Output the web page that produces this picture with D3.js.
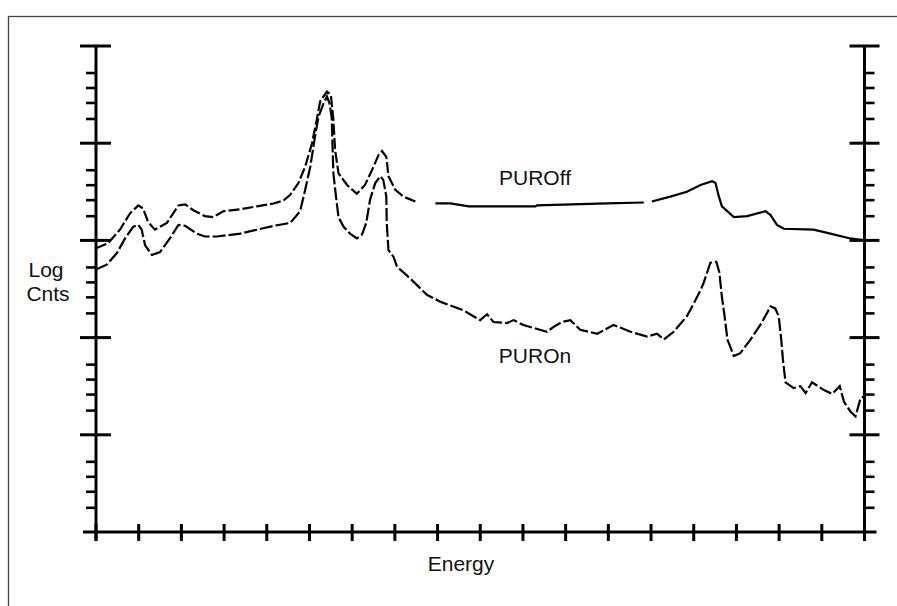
<!DOCTYPE html>
<html>
<head>
<meta charset="utf-8">
<script src="https://cdn.jsdelivr.net/npm/d3@7"></script>
<style>
  html, body { margin: 0; padding: 0; background: #fff; }
  svg { display: block; }
  text { font-family: "Liberation Sans", Arial, sans-serif; fill: #111; }
</style>
</head>
<body>
<svg id="chart" width="897" height="606"></svg>
<script>
// ---------------- data ----------------
// x: energy (arbitrary units, 0..18), y: log10 counts (decades, 0..5)
const xTicks = d3.range(0, 19);            // energy tick positions
const yMajorTicks = d3.range(0, 6);        // decade ticks
const yMinorOffsets = [0.249, 0.414, 0.568, 0.722]; // minor tick positions within each decade

const seriesNames = ["PUROff", "PUROn"];

const purOffE = [0.00,0.28,0.56,0.80,0.99,1.10,1.22,1.38,1.66,1.93,2.09,2.28,2.55,2.75,2.98,3.38,3.77,4.16,4.39,4.55,4.74,4.90,5.06,5.17,5.25,5.41,5.50,5.56,5.60,5.68,5.88,6.11,6.30,6.46,6.62,6.70,6.80,6.85,7.01,7.20,7.48,null,7.95,8.30,8.73,10.29,10.33,11.97,12.83,null,13.02,13.45,13.84,14.16,14.43,14.51,14.59,14.66,14.94,15.25,15.68,15.80,15.95,16.11,16.81,17.20,17.67,18.00];
const purOffV = [2.92,2.97,3.11,3.28,3.36,3.33,3.19,3.11,3.18,3.36,3.37,3.31,3.25,3.24,3.30,3.32,3.35,3.38,3.41,3.47,3.59,3.76,4.00,4.24,4.43,4.53,4.50,4.24,3.93,3.69,3.57,3.48,3.57,3.72,3.88,3.92,3.86,3.66,3.52,3.45,3.40,null,3.38,3.38,3.35,3.35,3.36,3.38,3.39,null,3.40,3.45,3.50,3.57,3.61,3.59,3.45,3.35,3.24,3.25,3.30,3.26,3.16,3.12,3.11,3.07,3.02,3.00];

const purOnE = [0.00,0.25,0.49,0.68,0.87,0.99,1.07,1.15,1.31,1.50,1.73,1.93,2.09,2.36,2.55,2.83,3.38,3.77,4.16,4.55,4.78,4.90,5.02,5.13,5.21,5.33,5.41,5.47,5.52,5.56,5.64,5.68,5.80,5.95,6.11,6.23,6.33,6.42,6.54,6.66,6.73,6.80,6.81,6.85,6.97,7.05,7.28,7.52,7.75,8.06,8.61,8.84,9.00,9.16,9.31,9.63,9.78,10.01,10.56,10.72,10.91,11.11,11.34,11.74,12.12,12.52,12.91,13.14,13.30,13.53,13.84,14.00,14.16,14.23,14.39,14.53,14.60,14.66,14.72,14.79,14.94,15.09,15.33,15.56,15.80,15.91,15.99,16.05,16.09,16.15,16.34,16.50,16.62,16.77,17.05,17.24,17.42,17.52,17.67,17.79,17.91,17.98];
const purOnV = [2.70,2.75,2.87,3.02,3.14,3.16,3.11,2.95,2.85,2.88,3.02,3.16,3.15,3.07,3.04,3.04,3.07,3.11,3.15,3.18,3.30,3.52,3.76,4.07,4.27,4.41,4.48,4.41,4.27,3.69,3.38,3.24,3.14,3.07,3.02,3.06,3.18,3.42,3.59,3.66,3.62,3.45,3.18,2.90,2.83,2.73,2.64,2.54,2.44,2.37,2.28,2.22,2.18,2.24,2.16,2.15,2.18,2.13,2.06,2.11,2.16,2.18,2.08,2.04,2.13,2.06,2.01,2.04,1.98,2.06,2.22,2.35,2.49,2.56,2.77,2.78,2.67,2.42,2.23,1.98,1.81,1.84,1.98,2.13,2.32,2.30,2.22,1.98,1.77,1.54,1.48,1.50,1.43,1.54,1.46,1.42,1.50,1.34,1.24,1.19,1.38,1.39];

const axisTitleY = ["Log", "Cnts"];
const axisTitleX = "Energy";

// ---------------- layout ----------------
const svg = d3.select("#chart");
const plotL = 96, plotR = 864.5, plotT = 46, plotB = 532;

const x = d3.scaleLinear().domain([0, 18]).range([plotL, plotR]);
const y = d3.scaleLinear().domain([0, 5]).range([plotB, plotT]);

// outer frame (right/bottom edges lie outside the visible area)
svg.append("rect")
  .attr("x", 8.5).attr("y", 16.5)
  .attr("width", 900).attr("height", 600)
  .attr("fill", "none").attr("stroke", "#444").attr("stroke-width", 1.3);

const ink = "#000";
const g = svg.append("g");

// axes lines
g.append("line").attr("x1", plotL).attr("x2", plotL).attr("y1", y(5)).attr("y2", plotB + 9)
  .attr("stroke", ink).attr("stroke-width", 3);
g.append("line").attr("x1", plotR).attr("x2", plotR).attr("y1", y(5)).attr("y2", plotB + 9)
  .attr("stroke", ink).attr("stroke-width", 3);
g.append("line").attr("x1", plotL - 13).attr("x2", plotR + 12).attr("y1", plotB).attr("y2", plotB)
  .attr("stroke", ink).attr("stroke-width", 3);

// y major ticks (both sides)
const majors = yMajorTicks.filter(d => d > 0);
g.selectAll(".ymajL").data(majors).enter().append("line")
  .attr("x1", plotL - 16).attr("x2", plotL + 15)
  .attr("y1", d => y(d)).attr("y2", d => y(d))
  .attr("stroke", ink).attr("stroke-width", 3);
g.selectAll(".ymajR").data(majors).enter().append("line")
  .attr("x1", plotR - 15).attr("x2", plotR + 15)
  .attr("y1", d => y(d)).attr("y2", d => y(d))
  .attr("stroke", ink).attr("stroke-width", 3);

// y minor ticks
const minors = [];
yMajorTicks.slice(0, -1).forEach(d => yMinorOffsets.forEach(o => minors.push(d + o)));
g.selectAll(".yminL").data(minors).enter().append("line")
  .attr("x1", plotL - 10).attr("x2", plotL)
  .attr("y1", d => y(d)).attr("y2", d => y(d))
  .attr("stroke", ink).attr("stroke-width", 2.6);
g.selectAll(".yminR").data(minors).enter().append("line")
  .attr("x1", plotR).attr("x2", plotR + 10)
  .attr("y1", d => y(d)).attr("y2", d => y(d))
  .attr("stroke", ink).attr("stroke-width", 2.6);

// x ticks
g.selectAll(".xt").data(xTicks).enter().append("line")
  .attr("x1", d => x(d)).attr("x2", d => x(d))
  .attr("y1", plotB - 8).attr("y2", plotB + 9)
  .attr("stroke", ink).attr("stroke-width", 3);

// curves
const line = d3.line()
  .defined(d => d[0] !== null && d[1] !== null)
  .x(d => x(d[0])).y(d => y(d[1]));

const offPts = purOffE.map((e, i) => [e, purOffV[i]]);
const onPts = purOnE.map((e, i) => [e, purOnV[i]]);

// PUROff: dashed through the low-energy region, solid afterwards
const firstGap = offPts.findIndex(d => d[0] === null);
g.append("path").attr("d", line(offPts.slice(0, firstGap)))
  .attr("fill", "none").attr("stroke", ink).attr("stroke-width", 2.2)
  .attr("stroke-dasharray", "11 3");
g.append("path").attr("d", line(offPts.slice(firstGap + 1)))
  .attr("fill", "none").attr("stroke", ink).attr("stroke-width", 2.2);

g.append("path").attr("d", line(onPts))
  .attr("fill", "none").attr("stroke", ink).attr("stroke-width", 2.2)
  .attr("stroke-dasharray", "13 3");

// labels
const fs = 21;
svg.append("text").attr("x", 535).attr("y", 185).attr("text-anchor", "middle")
  .attr("font-size", fs).text(seriesNames[0]);
svg.append("text").attr("x", 535).attr("y", 363).attr("text-anchor", "middle")
  .attr("font-size", fs).text(seriesNames[1]);
svg.append("text").attr("x", 461).attr("y", 571).attr("text-anchor", "middle")
  .attr("font-size", fs).text(axisTitleX);
svg.append("text").attr("x", 46).attr("y", 277).attr("text-anchor", "middle")
  .attr("font-size", fs).text(axisTitleY[0]);
svg.append("text").attr("x", 48).attr("y", 301).attr("text-anchor", "middle")
  .attr("font-size", fs).text(axisTitleY[1]);
</script>
</body>
</html>
